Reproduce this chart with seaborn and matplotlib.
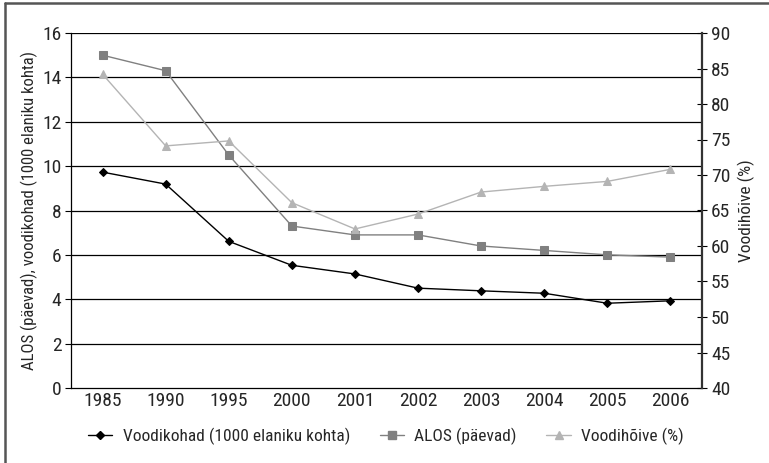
import pandas as pd
import matplotlib
matplotlib.use('Agg')
import matplotlib.pyplot as plt
import matplotlib.font_manager as fm
import seaborn as sns
from matplotlib.lines import Line2D

sns.set_style('white')

# kitsas kiri, kui leidub
nimed = sorted({f.name for f in fm.fontManager.ttflist})
kitsad = [n for n in nimed if ('Narrow' in n or 'Condensed' in n)]
eelis = [n for n in kitsad if 'Liberation' in n or 'Arial' in n] + \
        [n for n in kitsad if 'Roboto' in n] + kitsad
if eelis:
    plt.rcParams['font.family'] = [eelis[0], 'Liberation Sans', 'DejaVu Sans']
    fs, fl = 14, 12
else:
    plt.rcParams['font.family'] = ['Liberation Sans', 'DejaVu Sans']
    fs, fl = 12, 11

# andmed
aastad = ['1985', '1990', '1995', '2000', '2001', '2002', '2003', '2004', '2005', '2006']
voodikohad = [9.73, 9.19, 6.61, 5.53, 5.14, 4.50, 4.38, 4.27, 3.82, 3.93]
alos = [15.0, 14.3, 10.5, 7.3, 6.9, 6.9, 6.4, 6.2, 6.0, 5.9]
voodihoive = [84.2, 74.1, 74.8, 66.1, 62.4, 64.5, 67.6, 68.4, 69.1, 70.8]

df = pd.DataFrame({'aasta': aastad, 'voodikohad': voodikohad,
                   'alos': alos, 'hoive': voodihoive})

fig = plt.figure(figsize=(7.69, 4.63), dpi=100)
ax = fig.add_axes([71/769, 1-388/463, (702-71)/769, (388-33)/463])
ax2 = ax.twinx()

c1, c2, c3 = '#000000', '#808080', '#b4b4b4'
sns.lineplot(data=df, x='aasta', y='voodikohad', ax=ax, color=c1, lw=1,
             marker='D', markersize=4, markeredgecolor=c1, zorder=5)
sns.lineplot(data=df, x='aasta', y='alos', ax=ax, color=c2, lw=1,
             marker='s', markersize=5.5, markeredgecolor=c2, zorder=4)
sns.lineplot(data=df, x='aasta', y='hoive', ax=ax2, color=c3, lw=1,
             marker='^', markersize=6, markeredgecolor=c3, zorder=3)

ax.set_xlim(-0.5, 9.5)
ax.set_ylim(0, 16)
ax.set_yticks(range(0, 17, 2))
ax2.set_ylim(40, 90)
ax2.set_yticks(range(40, 91, 5))

for y in range(2, 17, 2):
    ax.axhline(y, color='black', lw=0.9, zorder=1)

# x tickid kategooriate vahel
ax.set_xticks([i - 0.5 for i in range(11)], minor=False)
ax.set_xticklabels([])
ax.set_xticks(range(10), minor=True)
ax.set_xticklabels(aastad, minor=True)
ax.tick_params(axis='x', which='major', direction='out', length=4, width=0.8, color='black')
ax.tick_params(axis='x', which='minor', length=0, labelsize=fs, pad=3)
ax.tick_params(axis='y', direction='out', length=4, width=0.8, color='black', labelsize=fs, pad=3)
ax2.tick_params(axis='y', direction='inout', length=7, width=0.8, color='black', labelsize=fs, pad=3)

for s in ['left', 'bottom']:
    ax.spines[s].set_color('black')
    ax.spines[s].set_linewidth(0.9)
ax.spines['top'].set_visible(False)
ax.spines['right'].set_visible(False)
for s in ['left', 'top', 'bottom']:
    ax2.spines[s].set_visible(False)
ax2.spines['right'].set_color('#333333')
ax2.spines['right'].set_linewidth(1.6)

ax.set_xlabel('')
ax.set_ylabel('ALOS (päevad), voodikohad (1000 elaniku kohta)', fontsize=fl, labelpad=3)
ax2.set_ylabel('Voodihõive (%)', fontsize=fl + 0.5, labelpad=5)
ax.legend_ = None

handles = [Line2D([], [], color=c1, marker='D', markersize=4, lw=1),
           Line2D([], [], color=c2, marker='s', markersize=5.5, lw=1),
           Line2D([], [], color=c3, marker='^', markersize=6, lw=1)]
labels = ['Voodikohad (1000 elaniku kohta)', 'ALOS (päevad)', 'Voodihõive (%)']
fig.legend(handles, labels, loc='center', bbox_to_anchor=(386/769, 1-436/463),
           ncol=3, frameon=False, fontsize=fl + 0.5, handlelength=1.4, columnspacing=1.7,
           handletextpad=0.6)

# raam vasakul ja ülal
fig.add_artist(Line2D([5/769, 5/769], [0, 1-3/463], color='#555555', lw=1.8, transform=fig.transFigure))
fig.add_artist(Line2D([5/769, 1], [1-3/463, 1-3/463], color='#555555', lw=1.8, transform=fig.transFigure))

fig.savefig('out.png', dpi=100)
